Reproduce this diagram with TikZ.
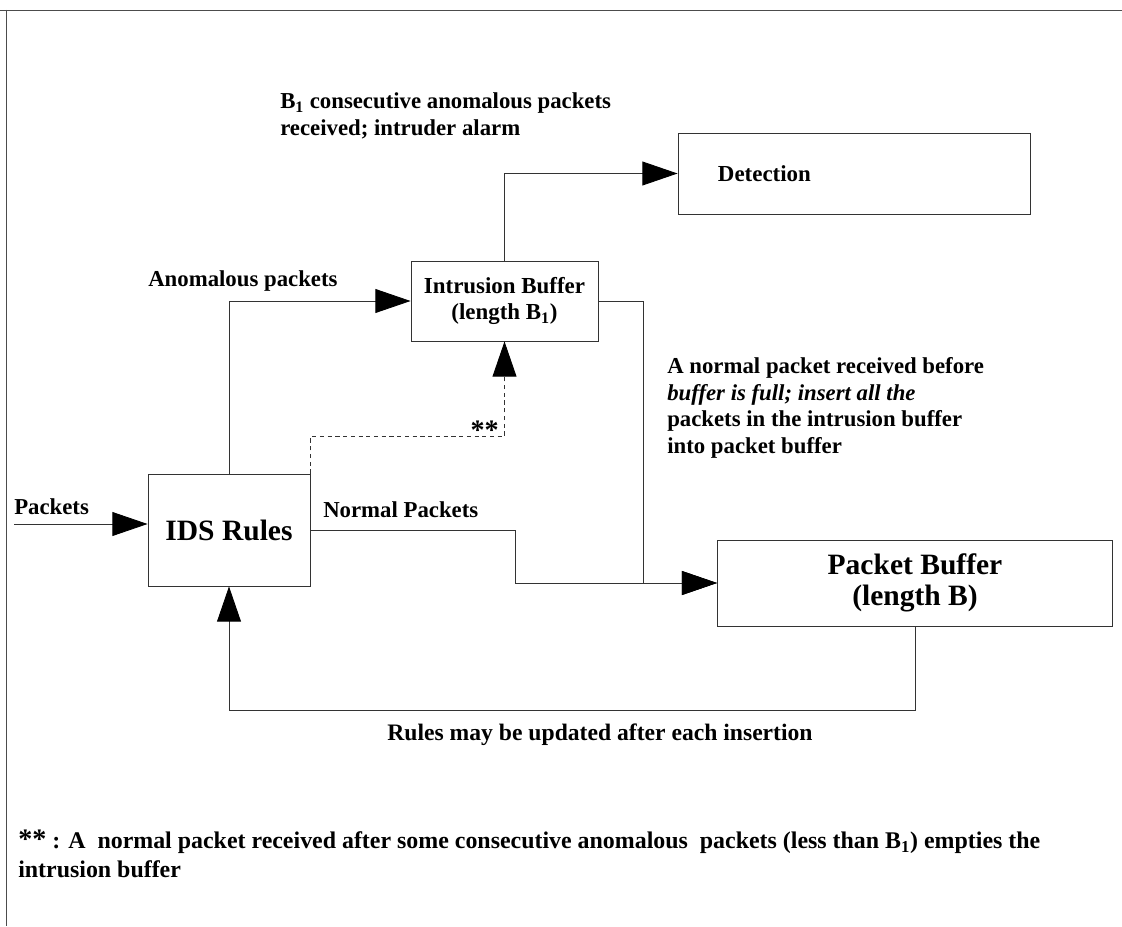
\documentclass[tikz,border=0pt]{standalone}
\usepackage{fontspec}
\setmainfont{Liberation Serif}
\usetikzlibrary{arrows.meta}
\tikzset{
  box/.style={draw=black!80,line width=0.6pt,inner sep=0pt,font=\fontsize{16.3}{19}\selectfont\bfseries,align=center},
  bigbox/.style={box,font=\fontsize{21}{22}\selectfont\bfseries},
  lbl/.style={font=\fontsize{16.2}{19}\selectfont\bfseries,align=left,inner sep=0pt},
  flow/.style={draw=black!80,line width=0.6pt,-{Triangle[length=25pt,width=17pt,color=black]}},
}
\newcommand\stars{{\fontsize{20}{20}\selectfont **}}
\begin{document}
\begin{tikzpicture}[x=0.025cm,y=-0.025cm]
	\useasboundingbox (0,0) rectangle (1122,926);
	% frame
	\draw[black!70,line width=0.6pt] (0,10) -- (1122,10);
	\draw[black!70,line width=0.6pt] (6,10) -- (6,926);
	% blocks
	\node[bigbox,minimum width=4.05cm,minimum height=2.8cm] (ids) at (229,530) {IDS Rules};
	\node[box,minimum width=4.675cm,minimum height=2cm] (intr) at (504.5,301) {Intrusion Buffer\\(length B\textsubscript{1})};
	\node[box,minimum width=8.8cm,minimum height=2.025cm,text width=6.8cm,inner xsep=1cm,align=left] (det) at (854,173.5) {Detection};
	\node[bigbox,minimum width=9.875cm,minimum height=2.15cm] (pb) at (915,583) {Packet Buffer\\(length B)};
	\coordinate (pkin) at (14,524);
	% connectors
	\draw[flow] (pkin) -- (pkin -| ids.west);
	\draw[flow] (ids.north) |- (intr.west);
	\draw[flow] (intr.north) |- (det.west);
	\draw[flow] (intr.east) -- ++(45,0) |- (pb.west);
	\draw[flow] (ids.east) -- ++(205,0) |- (pb.west);
	\draw[flow] (pb.south) -- ++(0,84) -| (ids.south);
	\draw[flow,dash pattern=on 3pt off 2.5pt] (ids.north east) -- ++(0,-37) -| (intr.south);
	% labels
	\node[lbl,anchor=west] at (14,507) {Packets};
	\node[lbl,anchor=west] at (148,281) {Anomalous packets};
	\node[lbl,anchor=west] at (323,510) {Normal Packets};
	\node[lbl,anchor=east] at (499,430) {\stars};
	\node[lbl,anchor=west] at (280,116) {B\textsubscript{1} consecutive anomalous packets\\received; intruder alarm};
	\node[lbl,anchor=west] at (667,408) {A normal packet received before\\\textit{buffer is full; insert all the}\\packets in the intrusion buffer\\into packet buffer};
	\node[lbl,font=\fontsize{16.8}{19}\selectfont\bfseries] at (600,735) {Rules may be updated after each insertion};
	\node[lbl,anchor=north west,font=\fontsize{17}{20.6}\selectfont\bfseries] at (18,830) {\stars\ : A\ \ normal packet received after some consecutive anomalous\ \ packets (less than B\textsubscript{1}) empties the\\intrusion buffer};
\end{tikzpicture}
\end{document}
